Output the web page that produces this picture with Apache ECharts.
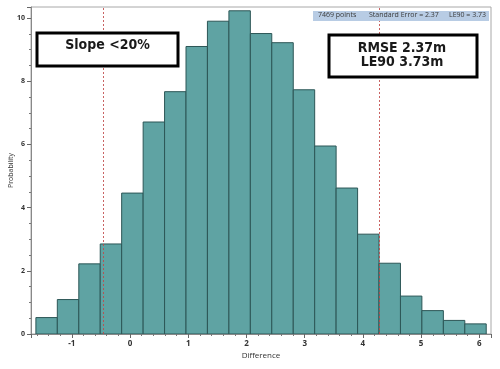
<!DOCTYPE html>
<html><head><meta charset="utf-8">
<script src="https://cdn.jsdelivr.net/npm/echarts@6/dist/echarts.min.js"></script>
<style>html,body{margin:0;padding:0;background:#fff}#c{width:500px;height:369px}</style>
</head><body><div id="c"></div>
<script>
// Histogram bin edges (Difference, m)
const binEdges = [-1.616,-1.248,-0.879,-0.511,-0.143,0.226,0.594,0.962,1.330,1.699,2.067,2.435,2.804,3.172,3.540,3.909,4.277,4.645,5.013,5.382,5.750,6.118];
// Probability (%) per bin
const probability = [0.52,1.09,2.22,2.85,4.46,6.71,7.67,9.10,9.90,10.23,9.51,9.22,7.73,5.95,4.62,3.16,2.24,1.20,0.74,0.43,0.32];
// mean - sd, mean + sd reference lines
const refLines = [-0.46, 4.28];
const xRange = [-1.7, 6.2];
const yRange = [0, 10.35];
const infoTexts = ['7469 points', 'Standard Error = 2.37', 'LE90 = 3.73'];
const leftBoxText = 'Slope <20%';
const rightBoxText = 'RMSE 2.37m\nLE90 3.73m';

const data = probability.map((p, i) => [binEdges[i], binEdges[i + 1], p]);
const chart = echarts.init(document.getElementById('c'), null, {renderer: 'canvas'});
const small = '"Open Sans", "Noto Sans", sans-serif';
const boxFont = 'bold 14px "DejaVu Sans Condensed", "DejaVu Sans", sans-serif';
chart.setOption({
  animation: false,
  grid: {left: 31, right: 9, top: 7, bottom: 35, containLabel: false, outerBoundsMode: 'none',
    show: true, borderColor: '#a8a8a8', borderWidth: 1, backgroundColor: '#fff'},
  xAxis: {
    type: 'value', min: xRange[0], max: xRange[1], splitNumber: 8,
    name: 'Difference', nameLocation: 'middle', nameGap: 18, nameMoveOverlap: false,
    nameTextStyle: {fontFamily: small, fontSize: 8, color: '#333'},
    axisLine: {show: true, onZero: false, lineStyle: {color: '#888', width: 1}},
    axisTick: {show: true, length: 4, lineStyle: {color: '#666'}},
    minorTick: {show: true, splitNumber: 5, length: 2, lineStyle: {color: '#777'}},
    axisLabel: {fontFamily: small, fontSize: 8, color: '#333', fontWeight: 'bold', margin: 6, showMinLabel: false, showMaxLabel: false},
    splitLine: {show: false}
  },
  yAxis: {
    type: 'value', min: yRange[0], max: yRange[1], interval: 2,
    name: 'Probability', nameLocation: 'middle', nameGap: 17, nameRotate: 90, nameMoveOverlap: false,
    nameTextStyle: {fontFamily: small, fontSize: 7, color: '#333'},
    axisLine: {show: true, onZero: false, lineStyle: {color: '#888', width: 1}},
    axisTick: {show: true, length: 4, lineStyle: {color: '#666'}},
    minorTick: {show: true, splitNumber: 4, length: 2, lineStyle: {color: '#777'}},
    axisLabel: {fontFamily: small, fontSize: 7, color: '#333', fontWeight: 'bold', margin: 6, showMaxLabel: false},
    splitLine: {show: false}
  },
  series: [{
    type: 'custom',
    data: data,
    encode: {x: [0, 1], y: 2},
    clip: true,
    renderItem: function (params, api) {
      const p0 = api.coord([api.value(0), api.value(2)]);
      const p1 = api.coord([api.value(1), 0]);
      return {type: 'rect', shape: {x: p0[0], y: p0[1], width: p1[0] - p0[0], height: p1[1] - p0[1]},
        style: {fill: '#5fa3a3', stroke: '#2c5656', lineWidth: 1}};
    },
    markLine: {
      silent: true, symbol: 'none', label: {show: false},
      lineStyle: {color: '#c04848', type: [2, 2], width: 1, opacity: 0.85},
      emphasis: {disabled: true},
      data: refLines.map(v => ({xAxis: v}))
    },
    z: 2
  }],
  graphic: [
    {type: 'rect', left: 313, top: 11, shape: {width: 176, height: 10}, style: {fill: '#b8cce4'}, z: 10},
    {type: 'text', left: 318, top: 11.5, style: {text: infoTexts[0], font: '7px "Open Sans", sans-serif', fill: '#3a3a3a'}, z: 11},
    {type: 'text', left: 369, top: 11.5, style: {text: infoTexts[1], font: '7px "Open Sans", sans-serif', fill: '#3a3a3a'}, z: 11},
    {type: 'text', left: 449, top: 11.5, style: {text: infoTexts[2], font: '7px "Open Sans", sans-serif', fill: '#3a3a3a'}, z: 11},
    {type: 'rect', shape: {x: 37, y: 33, width: 141, height: 33}, style: {fill: '#fff', stroke: '#000', lineWidth: 3}, z: 10},
    {type: 'text', x: 107.5, y: 45, style: {text: leftBoxText, font: boxFont, fill: '#1a1a1a', align: 'center', verticalAlign: 'middle'}, z: 11},
    {type: 'rect', shape: {x: 329, y: 35, width: 148, height: 42}, style: {fill: '#fff', stroke: '#000', lineWidth: 3}, z: 10},
    {type: 'text', x: 402, y: 55.5, style: {text: rightBoxText, font: boxFont, fill: '#1a1a1a', align: 'center', verticalAlign: 'middle', lineHeight: 14}, z: 11}
  ]
});
</script></body></html>
